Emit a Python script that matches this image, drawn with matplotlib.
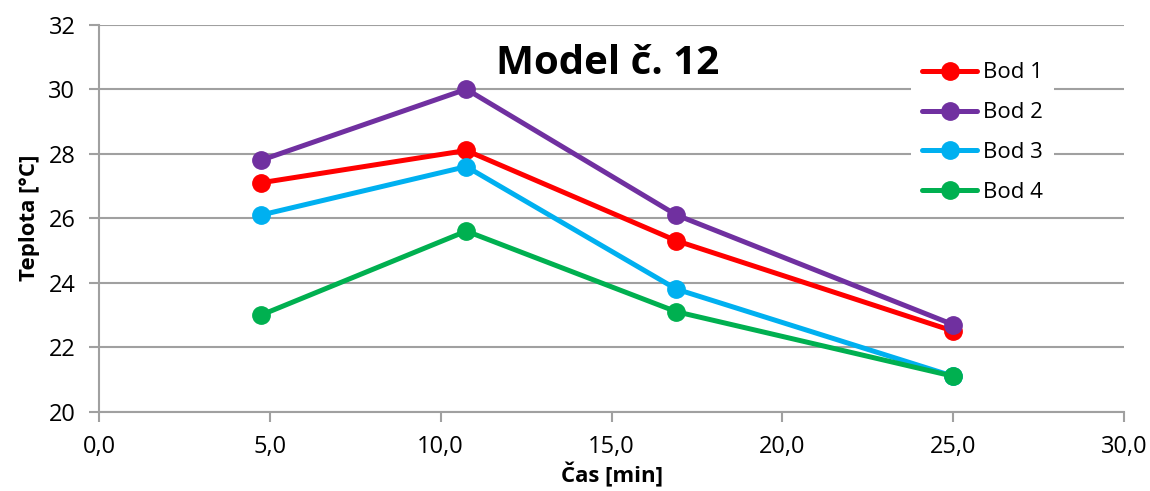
import matplotlib
matplotlib.use("Agg")
import matplotlib.pyplot as plt
from matplotlib.ticker import FuncFormatter, MultipleLocator

# Measurement times [min]
cas = [4.75, 10.75, 16.9, 25.0]

# Temperatures at the four measuring points [°C]
bod_1 = [27.1, 28.1, 25.3, 22.5]
bod_2 = [27.8, 30.0, 26.1, 22.7]
bod_3 = [26.1, 27.6, 23.8, 21.1]
bod_4 = [23.0, 25.6, 23.1, 21.1]

series_names = ["Bod 1", "Bod 2", "Bod 3", "Bod 4"]
series_colors = ["#FF0000", "#7030A0", "#00B0F0", "#00B050"]

title_text = "Model č. 12"
x_label = "Čas [min]"
y_label = "Teplota [°C]"

plt.rcParams["font.family"] = ["Open Sans", "DejaVu Sans"]

fig = plt.figure(figsize=(11.5, 4.91), dpi=100)
ax = fig.add_axes([0.0861, 0.1615, 0.8913, 0.7882])

grid_col = "#A0A0A0"
for name, col, vals in zip(series_names, series_colors, [bod_1, bod_2, bod_3, bod_4]):
    ax.plot(cas, vals, color=col, lw=3.6, marker="o", ms=12.5,
            solid_capstyle="round", label=name, zorder=3)

ax.set_xlim(0, 30)
ax.set_ylim(20, 32)
ax.xaxis.set_major_locator(MultipleLocator(5))
ax.yaxis.set_major_locator(MultipleLocator(2))
ax.xaxis.set_major_formatter(FuncFormatter(lambda v, p: f"{v:.1f}".replace(".", ",")))
ax.yaxis.set_major_formatter(FuncFormatter(lambda v, p: f"{v:.0f}"))

ax.grid(axis="y", color=grid_col, lw=1.5, zorder=0)
for s in ["top", "right"]:
    ax.spines[s].set_visible(False)
for s in ["left", "bottom"]:
    ax.spines[s].set_color(grid_col)
    ax.spines[s].set_linewidth(1.5)
ax.tick_params(axis="both", direction="out", length=7, width=1.5, color=grid_col,
               labelsize=17, labelcolor="black")
ax.tick_params(axis="x", pad=10)
ax.tick_params(axis="y", pad=10)

ax.set_xlabel(x_label, fontsize=16, fontweight="bold", labelpad=2)
ax.set_ylabel(y_label, fontsize=16, fontweight="bold", labelpad=6)

ax.text(0.496, 0.9, title_text, transform=ax.transAxes, ha="center", va="center",
        fontsize=29, fontweight="bold", zorder=5)

leg = ax.legend(loc="upper left", bbox_to_anchor=(0.781, 0.96), frameon=True,
                fontsize=16, handlelength=2.5, handletextpad=0.25,
                labelspacing=0.85, borderpad=0.5, fancybox=False)
leg.get_frame().set_facecolor("white")
leg.get_frame().set_edgecolor("none")
leg.get_frame().set_alpha(1.0)
leg.set_zorder(4)

fig.savefig("out.png", dpi=100)
